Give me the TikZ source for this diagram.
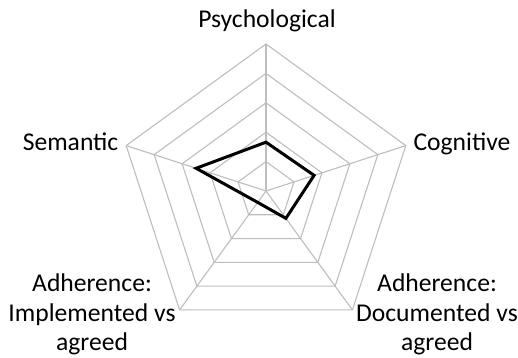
\documentclass[tikz,border=0pt]{standalone}
\usepackage{fontspec}
\setmainfont{Carlito}
\definecolor{gridgray}{RGB}{190,190,190}
\begin{document}
\begin{tikzpicture}[x=1pt,y=1pt,
  grid/.style={draw=gridgray, line width=1.1pt, line join=miter},
  series/.style={draw=black, line width=3pt, line join=miter},
  axislabel/.style={font=\fontsize{25.6}{29.5}\selectfont, inner sep=0pt, align=center}]
\useasboundingbox (0,0) rectangle (518,357);
\fill[white] (0,0) rectangle (518,357);
\coordinate (O) at (266,166);
\begin{scope}[shift={(266,166)}]
  % concentric pentagon rings, 29.4pt apart
  \foreach \k in {1,...,5} {
    \draw[grid] (90:{\k*29.4}) -- (18:{\k*29.4}) -- (306:{\k*29.4})
      -- (234:{\k*29.4}) -- (162:{\k*29.4}) -- cycle;
  }
  % spokes
  \foreach \a in {90,18,306,234,162} {
    \coordinate (v\a) at (\a:147);
    \draw[grid] (O) -- (v\a);
  }
  % data series
  \coordinate (psy) at (90:{1.66*29.4});
  \coordinate (cog) at (18:{1.72*29.4});
  \coordinate (doc) at (306:{1.15*29.4});
  \coordinate (imp) at (234:{0.48*29.4});
  \coordinate (sem) at (162:{2.5*29.4});
  \draw[series] (psy) -- (cog) -- (doc) -- (imp) -- (sem) -- cycle;
\end{scope}
% axis labels
\node[axislabel, anchor=base] (lpsy) at (267,329.7) {Psychological};
\node[axislabel, anchor=base east] (lsem) at (118.5,206.3) {Semantic};
\node[axislabel, anchor=base west] (lcog) at (413.3,206.3) {Cognitive};
\node[axislabel, anchor=base] (limp) at (92,6.3) {Adherence:\\Implemented vs\\agreed};
\node[axislabel, anchor=base] (ldoc) at (437,6.3) {Adherence:\\Documented vs\\agreed};
\end{tikzpicture}
\end{document}
